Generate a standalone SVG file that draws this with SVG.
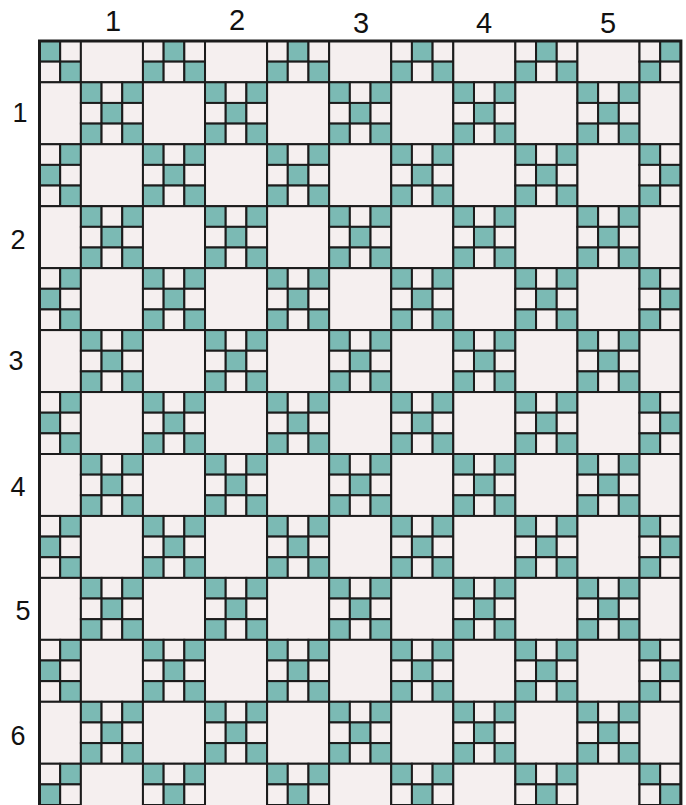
<svg xmlns="http://www.w3.org/2000/svg" width="686" height="805" viewBox="0 0 686 805">
<style>
.t{fill:#7bbab4;stroke:#1c1c1c;stroke-width:2}
.l{fill:#f5efef;stroke:#1c1c1c;stroke-width:2}
.lab{font-family:"Liberation Sans",Arial,sans-serif;font-size:27px;fill:#111;text-anchor:middle}
.top{font-size:29px}
</style>
<defs>
<g id="np">
<rect class="t" x="0" y="0" width="20.69" height="20.65"/>
<rect class="l" x="20.69" y="0" width="20.69" height="20.65"/>
<rect class="t" x="41.38" y="0" width="20.69" height="20.65"/>
<rect class="l" x="0" y="20.65" width="20.69" height="20.65"/>
<rect class="t" x="20.69" y="20.65" width="20.69" height="20.65"/>
<rect class="l" x="41.38" y="20.65" width="20.69" height="20.65"/>
<rect class="t" x="0" y="41.3" width="20.69" height="20.65"/>
<rect class="l" x="20.69" y="41.3" width="20.69" height="20.65"/>
<rect class="t" x="41.38" y="41.3" width="20.69" height="20.65"/>
</g>
<rect id="pl" class="l" x="0" y="0" width="62.07" height="61.95"/>
<clipPath id="clip"><rect x="39.5" y="41" width="641.4" height="764.05"/></clipPath>
</defs>
<rect width="686" height="805" fill="#ffffff"/>
<g id="quilt" clip-path="url(#clip)">
<g id="row0" transform="translate(0,20.35)">
<use id="b0-0" href="#np" x="18.81"/><use id="b0-1" href="#pl" x="80.88"/><use id="b0-2" href="#np" x="142.95"/><use id="b0-3" href="#pl" x="205.02"/><use id="b0-4" href="#np" x="267.09"/><use id="b0-5" href="#pl" x="329.16"/><use id="b0-6" href="#np" x="391.23"/><use id="b0-7" href="#pl" x="453.3"/><use id="b0-8" href="#np" x="515.37"/><use id="b0-9" href="#pl" x="577.44"/><use id="b0-10" href="#np" x="639.51"/>
</g>
<g id="row1" transform="translate(0,82.3)">
<use id="b1-0" href="#pl" x="18.81"/><use id="b1-1" href="#np" x="80.88"/><use id="b1-2" href="#pl" x="142.95"/><use id="b1-3" href="#np" x="205.02"/><use id="b1-4" href="#pl" x="267.09"/><use id="b1-5" href="#np" x="329.16"/><use id="b1-6" href="#pl" x="391.23"/><use id="b1-7" href="#np" x="453.3"/><use id="b1-8" href="#pl" x="515.37"/><use id="b1-9" href="#np" x="577.44"/><use id="b1-10" href="#pl" x="639.51"/>
</g>
<g id="row2" transform="translate(0,144.25)">
<use id="b2-0" href="#np" x="18.81"/><use id="b2-1" href="#pl" x="80.88"/><use id="b2-2" href="#np" x="142.95"/><use id="b2-3" href="#pl" x="205.02"/><use id="b2-4" href="#np" x="267.09"/><use id="b2-5" href="#pl" x="329.16"/><use id="b2-6" href="#np" x="391.23"/><use id="b2-7" href="#pl" x="453.3"/><use id="b2-8" href="#np" x="515.37"/><use id="b2-9" href="#pl" x="577.44"/><use id="b2-10" href="#np" x="639.51"/>
</g>
<g id="row3" transform="translate(0,206.2)">
<use id="b3-0" href="#pl" x="18.81"/><use id="b3-1" href="#np" x="80.88"/><use id="b3-2" href="#pl" x="142.95"/><use id="b3-3" href="#np" x="205.02"/><use id="b3-4" href="#pl" x="267.09"/><use id="b3-5" href="#np" x="329.16"/><use id="b3-6" href="#pl" x="391.23"/><use id="b3-7" href="#np" x="453.3"/><use id="b3-8" href="#pl" x="515.37"/><use id="b3-9" href="#np" x="577.44"/><use id="b3-10" href="#pl" x="639.51"/>
</g>
<g id="row4" transform="translate(0,268.15)">
<use id="b4-0" href="#np" x="18.81"/><use id="b4-1" href="#pl" x="80.88"/><use id="b4-2" href="#np" x="142.95"/><use id="b4-3" href="#pl" x="205.02"/><use id="b4-4" href="#np" x="267.09"/><use id="b4-5" href="#pl" x="329.16"/><use id="b4-6" href="#np" x="391.23"/><use id="b4-7" href="#pl" x="453.3"/><use id="b4-8" href="#np" x="515.37"/><use id="b4-9" href="#pl" x="577.44"/><use id="b4-10" href="#np" x="639.51"/>
</g>
<g id="row5" transform="translate(0,330.1)">
<use id="b5-0" href="#pl" x="18.81"/><use id="b5-1" href="#np" x="80.88"/><use id="b5-2" href="#pl" x="142.95"/><use id="b5-3" href="#np" x="205.02"/><use id="b5-4" href="#pl" x="267.09"/><use id="b5-5" href="#np" x="329.16"/><use id="b5-6" href="#pl" x="391.23"/><use id="b5-7" href="#np" x="453.3"/><use id="b5-8" href="#pl" x="515.37"/><use id="b5-9" href="#np" x="577.44"/><use id="b5-10" href="#pl" x="639.51"/>
</g>
<g id="row6" transform="translate(0,392.05)">
<use id="b6-0" href="#np" x="18.81"/><use id="b6-1" href="#pl" x="80.88"/><use id="b6-2" href="#np" x="142.95"/><use id="b6-3" href="#pl" x="205.02"/><use id="b6-4" href="#np" x="267.09"/><use id="b6-5" href="#pl" x="329.16"/><use id="b6-6" href="#np" x="391.23"/><use id="b6-7" href="#pl" x="453.3"/><use id="b6-8" href="#np" x="515.37"/><use id="b6-9" href="#pl" x="577.44"/><use id="b6-10" href="#np" x="639.51"/>
</g>
<g id="row7" transform="translate(0,454)">
<use id="b7-0" href="#pl" x="18.81"/><use id="b7-1" href="#np" x="80.88"/><use id="b7-2" href="#pl" x="142.95"/><use id="b7-3" href="#np" x="205.02"/><use id="b7-4" href="#pl" x="267.09"/><use id="b7-5" href="#np" x="329.16"/><use id="b7-6" href="#pl" x="391.23"/><use id="b7-7" href="#np" x="453.3"/><use id="b7-8" href="#pl" x="515.37"/><use id="b7-9" href="#np" x="577.44"/><use id="b7-10" href="#pl" x="639.51"/>
</g>
<g id="row8" transform="translate(0,515.95)">
<use id="b8-0" href="#np" x="18.81"/><use id="b8-1" href="#pl" x="80.88"/><use id="b8-2" href="#np" x="142.95"/><use id="b8-3" href="#pl" x="205.02"/><use id="b8-4" href="#np" x="267.09"/><use id="b8-5" href="#pl" x="329.16"/><use id="b8-6" href="#np" x="391.23"/><use id="b8-7" href="#pl" x="453.3"/><use id="b8-8" href="#np" x="515.37"/><use id="b8-9" href="#pl" x="577.44"/><use id="b8-10" href="#np" x="639.51"/>
</g>
<g id="row9" transform="translate(0,577.9)">
<use id="b9-0" href="#pl" x="18.81"/><use id="b9-1" href="#np" x="80.88"/><use id="b9-2" href="#pl" x="142.95"/><use id="b9-3" href="#np" x="205.02"/><use id="b9-4" href="#pl" x="267.09"/><use id="b9-5" href="#np" x="329.16"/><use id="b9-6" href="#pl" x="391.23"/><use id="b9-7" href="#np" x="453.3"/><use id="b9-8" href="#pl" x="515.37"/><use id="b9-9" href="#np" x="577.44"/><use id="b9-10" href="#pl" x="639.51"/>
</g>
<g id="row10" transform="translate(0,639.85)">
<use id="b10-0" href="#np" x="18.81"/><use id="b10-1" href="#pl" x="80.88"/><use id="b10-2" href="#np" x="142.95"/><use id="b10-3" href="#pl" x="205.02"/><use id="b10-4" href="#np" x="267.09"/><use id="b10-5" href="#pl" x="329.16"/><use id="b10-6" href="#np" x="391.23"/><use id="b10-7" href="#pl" x="453.3"/><use id="b10-8" href="#np" x="515.37"/><use id="b10-9" href="#pl" x="577.44"/><use id="b10-10" href="#np" x="639.51"/>
</g>
<g id="row11" transform="translate(0,701.8)">
<use id="b11-0" href="#pl" x="18.81"/><use id="b11-1" href="#np" x="80.88"/><use id="b11-2" href="#pl" x="142.95"/><use id="b11-3" href="#np" x="205.02"/><use id="b11-4" href="#pl" x="267.09"/><use id="b11-5" href="#np" x="329.16"/><use id="b11-6" href="#pl" x="391.23"/><use id="b11-7" href="#np" x="453.3"/><use id="b11-8" href="#pl" x="515.37"/><use id="b11-9" href="#np" x="577.44"/><use id="b11-10" href="#pl" x="639.51"/>
</g>
<g id="row12" transform="translate(0,763.75)">
<use id="b12-0" href="#np" x="18.81"/><use id="b12-1" href="#pl" x="80.88"/><use id="b12-2" href="#np" x="142.95"/><use id="b12-3" href="#pl" x="205.02"/><use id="b12-4" href="#np" x="267.09"/><use id="b12-5" href="#pl" x="329.16"/><use id="b12-6" href="#np" x="391.23"/><use id="b12-7" href="#pl" x="453.3"/><use id="b12-8" href="#np" x="515.37"/><use id="b12-9" href="#pl" x="577.44"/><use id="b12-10" href="#np" x="639.51"/>
</g>
</g>
<rect id="border" x="39.5" y="41" width="641.4" height="766" fill="none" stroke="#1c1c1c" stroke-width="3"/>
<g id="col-labels" class="lab top">
<text x="113" y="31">1</text>
<text x="237" y="30">2</text>
<text x="361" y="33">3</text>
<text x="484" y="33">4</text>
<text x="608" y="33">5</text>
</g>
<g id="row-labels" class="lab">
<text x="20" y="122">1</text>
<text x="18" y="249">2</text>
<text x="16" y="370">3</text>
<text x="18" y="496">4</text>
<text x="23" y="620">5</text>
<text x="18" y="745">6</text>
</g>
</svg>
